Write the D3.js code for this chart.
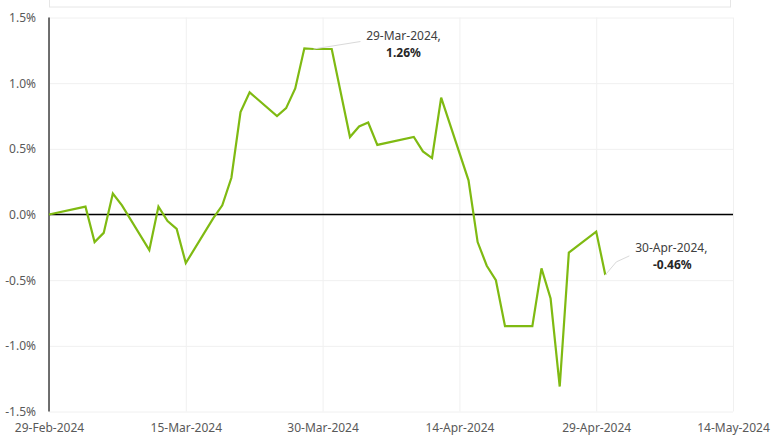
<!DOCTYPE html>
<html>
<head>
<meta charset="utf-8">
<script src="https://cdn.jsdelivr.net/npm/d3@7"></script>
<style>
  html, body { margin: 0; padding: 0; background: #fff; }
  svg { display: block; font-family: "Noto Sans", "Open Sans", sans-serif; }
</style>
</head>
<body>
<svg id="chart" width="771" height="436"></svg>
<script>
const dates = ["2024-02-29","2024-03-04","2024-03-05","2024-03-06","2024-03-07","2024-03-08",
  "2024-03-11","2024-03-12","2024-03-13","2024-03-14","2024-03-15",
  "2024-03-18","2024-03-19","2024-03-20","2024-03-21","2024-03-22",
  "2024-03-25","2024-03-26","2024-03-27","2024-03-28","2024-03-29","2024-03-31",
  "2024-04-02","2024-04-03","2024-04-04","2024-04-05",
  "2024-04-09","2024-04-10","2024-04-11","2024-04-12",
  "2024-04-15","2024-04-16","2024-04-17","2024-04-18","2024-04-19",
  "2024-04-22","2024-04-23","2024-04-24","2024-04-25","2024-04-26",
  "2024-04-29","2024-04-30"];
const values = [0.00, 0.06, -0.21, -0.14, 0.16, 0.07,
  -0.27, 0.06, -0.05, -0.11, -0.37,
  -0.03, 0.07, 0.28, 0.78, 0.93,
  0.75, 0.81, 0.96, 1.265, 1.26, 1.26,
  0.59, 0.67, 0.70, 0.53,
  0.59, 0.48, 0.43, 0.89,
  0.26, -0.21, -0.39, -0.50, -0.85,
  -0.85, -0.41, -0.64, -1.31, -0.29,
  -0.13, -0.46];
const xTickLabels = ["2024-02-29","2024-03-15","2024-03-30","2024-04-14","2024-04-29","2024-05-14"];
const yTicks = [-1.5, -1.0, -0.5, 0.0, 0.5, 1.0, 1.5];
const annotDates = ["2024-03-29", "2024-04-30"];
const annotValues = [1.26, -0.46];

(function () {
const parse = d3.utcParse("%Y-%m-%d");
const data = dates.map((d, i) => ({ date: parse(d), value: values[i] }));
const loc = d3.formatLocale({ decimal: ".", thousands: ",", grouping: [3], currency: ["$", ""], minus: "-" });

const svg = d3.select("#chart");
const mLeft = 49, mRight = 733, mTop = 17.5, mBottom = 411.5;

const x = d3.scaleUtc()
  .domain([parse("2024-02-29"), parse("2024-05-14")])
  .range([mLeft, mRight]);
const y = d3.scaleLinear().domain([-1.5, 1.5]).range([mBottom, mTop]);

// top (title) box remnant
svg.append("rect")
  .attr("x", 49.5).attr("y", -10).attr("width", 681).attr("height", 17)
  .attr("fill", "#fff").attr("stroke", "#e6e6e6").attr("stroke-width", 1);

// horizontal gridlines
svg.append("g")
  .attr("transform", `translate(${mLeft},0)`)
  .call(d3.axisLeft(y).tickValues(yTicks).tickSize(-(mRight - mLeft)).tickFormat(""))
  .call(g => g.select(".domain").remove())
  .call(g => g.selectAll("line").attr("stroke", "#f0f0f0").attr("stroke-width", 1));

// vertical gridlines
svg.append("g")
  .attr("transform", `translate(0,${mBottom})`)
  .call(d3.axisBottom(x).tickValues(xTickLabels.map(parse)).tickSize(-(mBottom - mTop)).tickFormat(""))
  .call(g => g.select(".domain").remove())
  .call(g => g.selectAll("line").attr("stroke", "#f0f0f0").attr("stroke-width", 1));

// y axis labels
const fmtPct = d => loc.format(".1f")(d) + "%";
svg.append("g")
  .attr("transform", `translate(${mLeft},0)`)
  .call(d3.axisLeft(y).tickValues(yTicks).tickSize(0).tickPadding(13).tickFormat(fmtPct))
  .call(g => g.select(".domain").remove())
  .call(g => g.selectAll("text").attr("fill", "#595959").attr("font-size", "12px")
      .attr("font-family", "\"Noto Sans\", sans-serif"));

// x axis labels
const fmtDate = d3.utcFormat("%d-%b-%Y");
svg.append("g")
  .attr("transform", `translate(0,${mBottom})`)
  .call(d3.axisBottom(x).tickValues(xTickLabels.map(parse)).tickSize(0).tickPadding(12).tickFormat(fmtDate))
  .call(g => g.select(".domain").remove())
  .call(g => g.selectAll("text").attr("fill", "#595959").attr("font-size", "12px")
      .attr("font-family", "\"Noto Sans\", sans-serif"));

// zero line
svg.append("line")
  .attr("x1", mLeft).attr("x2", mRight)
  .attr("y1", y(0)).attr("y2", y(0))
  .attr("stroke", "#000").attr("stroke-width", 1.5);

// y axis line
svg.append("line")
  .attr("x1", mLeft).attr("x2", mLeft)
  .attr("y1", mTop).attr("y2", mBottom)
  .attr("stroke", "#404040").attr("stroke-width", 1.5);

// series line
const line = d3.line().x(d => x(d.date)).y(d => y(d.value));
svg.append("path")
  .datum(data)
  .attr("fill", "none")
  .attr("stroke", "#7fba12")
  .attr("stroke-width", 2.2)
  .attr("stroke-linejoin", "miter")
  .attr("d", line);

// annotations
const annFmtDate = d3.utcFormat("%d-%b-%Y");
const annotations = annotDates.map((d, i) => ({ date: parse(d), value: annotValues[i] }));
const ann = svg.append("g").attr("font-size", "12px").attr("fill", "#404040");

{
  const a = annotations[0];
  const px = x(a.date), py = y(a.value);
  ann.append("path")
    .attr("d", `M${px},${py} L${px + 47},${py - 7.5}`)
    .attr("stroke", "#d9d9d9").attr("fill", "none").attr("stroke-width", 1);
  const t = ann.append("text").attr("text-anchor", "middle");
  t.append("tspan").attr("x", px + 90).attr("y", py - 9).text(annFmtDate(a.date) + ",");
  t.append("tspan").attr("x", px + 90).attr("y", py + 8).attr("font-weight", "bold")
    .attr("fill", "#262626").text(loc.format(".2f")(a.value) + "%");
}
{
  const a = annotations[1];
  const px = x(a.date), py = y(a.value);
  ann.append("path")
    .attr("d", `M${px},${py} L${px + 11},${py - 13} L${px + 24},${py - 19}`)
    .attr("stroke", "#d9d9d9").attr("fill", "none").attr("stroke-width", 1);
  const t = ann.append("text").attr("text-anchor", "middle");
  t.append("tspan").attr("x", px + 66).attr("y", py - 23).text(annFmtDate(a.date) + ",");
  t.append("tspan").attr("x", px + 67).attr("y", py - 6).attr("font-weight", "bold")
    .attr("fill", "#262626").text(loc.format(".2f")(a.value) + "%");
}
})();
</script>
</body>
</html>
